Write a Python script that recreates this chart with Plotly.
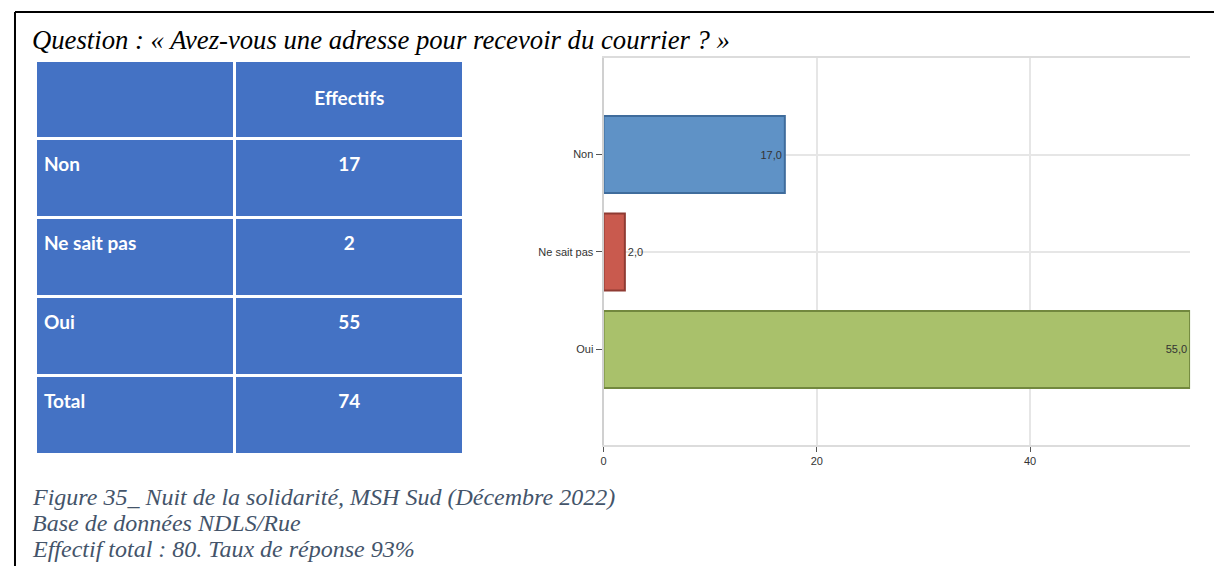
import plotly.graph_objects as go

# target picture coordinates are offset by the page's 8px body margin
OX, OY = 8, 8
W, H = 1214, 558

title_text = "Question : « Avez-vous une adresse pour recevoir du courrier ? »"
header_labels = ["", "Effectifs"]
row_labels = ["Non", "Ne sait pas", "Oui", "Total"]
row_values = ["17", "2", "55", "74"]

categories = ["Non", "Ne sait pas", "Oui"]
values = [17.0, 2.0, 55.0]
bar_colors = ["#5F92C6", "#C95A4E", "#A9C16B"]
bar_edges = ["#3F6C9C", "#8F3B33", "#72883E"]

x_ticks = [0, 20, 40]
caption_lines = [
    "Figure 35_ Nuit de la solidarité, MSH Sud (Décembre 2022)",
    "Base de données NDLS/Rue",
    "Effectif total : 80. Taux de réponse 93%",
]

TABLE_BLUE = "#4472C4"


def px(x):
    return (x - OX) / W


def py(y):
    return 1 - (y - OY) / H


def cell_text(s):
    # a blank first line pushes the visible label down inside the cell
    return "\u00a0<br><span style='font-size:19px'><b>%s</b></span>" % s


fig = go.Figure()

# Table
fig.add_trace(go.Table(
    domain=dict(x=[px(33), px(463)], y=[py(457), py(60)]),
    columnwidth=[196, 226],
    header=dict(
        values=[cell_text(h) for h in header_labels],
        fill_color=TABLE_BLUE,
        line=dict(color="white", width=3),
        align=["left", "center"],
        height=78,
        font=dict(family="Lato", size=16, color="white"),
    ),
    cells=dict(
        values=[[cell_text(r) for r in row_labels], [cell_text(v) for v in row_values]],
        fill_color=TABLE_BLUE,
        line=dict(color="white", width=3),
        align=["left", "center"],
        height=79,
        font=dict(family="Lato", size=11, color="white"),
    ),
))

# Bars
text_pos = ["inside" if v > 5 else "outside" for v in values]
fig.add_trace(go.Bar(
    x=values,
    y=categories,
    orientation="h",
    width=0.79,
    marker=dict(color=bar_colors, line=dict(color=bar_edges, width=2)),
    texttemplate="%{x:.1f}",
    textposition=text_pos,
    insidetextanchor="end",
    textfont=dict(family="Arial", size=11, color="#333333"),
    cliponaxis=False,
    showlegend=False,
))

fig.update_layout(
    width=W, height=H,
    margin=dict(l=0, r=0, t=0, b=0),
    paper_bgcolor="white",
    plot_bgcolor="white",
    separators=", ",
    showlegend=False,
    xaxis=dict(
        domain=[px(602), px(1190)],
        range=[0, 55],
        tickvals=x_ticks,
        ticktext=[str(t) for t in x_ticks],
        showgrid=True, gridcolor="#E6E6E6", gridwidth=2,
        zeroline=False,
        showline=True, linecolor="#DCDCDC", linewidth=2, mirror=True,
        ticks="outside", ticklen=5, tickcolor="#555555", tickwidth=1,
        tickfont=dict(family="Arial", size=11, color="#333333"),
    ),
    yaxis=dict(
        domain=[py(445), py(58)],
        type="category",
        categoryorder="array", categoryarray=categories,
        range=[2.98, -0.99],
        showgrid=True, gridcolor="#E6E6E6", gridwidth=2,
        zeroline=False,
        showline=True, linecolor="#D0D0D0", linewidth=2,
        ticks="outside", ticklen=6, tickcolor="#555555", tickwidth=1,
        tickfont=dict(family="Arial", size=11, color="#333333"),
    ),
)

# Title
fig.add_annotation(
    xref="paper", yref="paper", x=px(27), y=py(40),
    xanchor="left", yanchor="middle", showarrow=False,
    text="<i>%s</i>" % title_text,
    font=dict(family="Liberation Serif", size=26.7, color="black"),
)

# Caption
for i, line in enumerate(caption_lines):
    fig.add_annotation(
        xref="paper", yref="paper", x=px(27), y=py(497 + 26 * i),
        xanchor="left", yanchor="middle", showarrow=False,
        text="<i>%s</i>" % line,
        font=dict(family="Liberation Serif", size=24, color="#44546A"),
    )

# Frame
fig.add_shape(type="line", xref="paper", yref="paper",
              x0=px(12), y0=0, x1=px(12), y1=py(12),
              line=dict(color="black", width=2))
fig.add_shape(type="line", xref="paper", yref="paper",
              x0=px(12), y0=py(12), x1=1, y1=py(12),
              line=dict(color="black", width=2))

fig.write_html("out.html")
